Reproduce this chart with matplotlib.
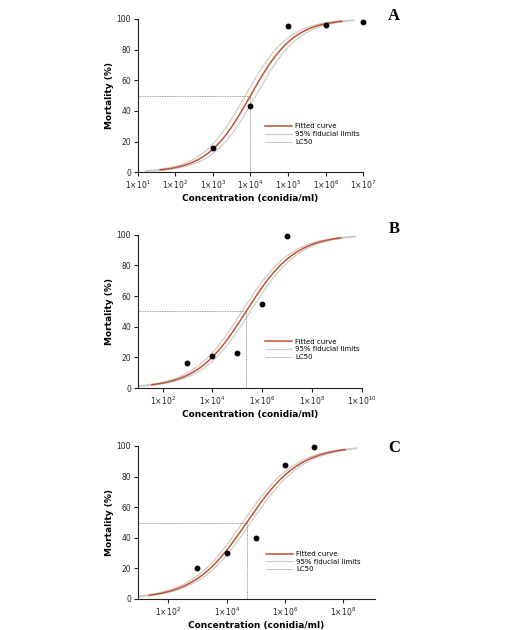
import numpy as np
import matplotlib
matplotlib.use("Agg")
import matplotlib.pyplot as plt
from matplotlib.lines import Line2D

W, H = 510, 630

# ---- data ----
conc_A = [1e3, 1e4, 1e5, 1e6, 1e7]
mort_A = [16, 43.5, 95.5, 96, 98]
conc_B = [1e3, 1e4, 1e5, 1e6, 1e7]
mort_B = [16, 21, 23, 55, 99]
conc_C = [1e3, 1e4, 1e5, 1e6, 1e7]
mort_C = [20, 30, 40, 87.5, 99.5]

# fitted log-logistic model parameters: log10(LC50), Hill slope
logLC50 = {"A": 4.0, "B": 5.36, "C": 4.69}
hill = {"A": 0.75, "B": 0.44, "C": 0.48}
fid_shift = {"A": 0.14, "B": 0.17, "C": 0.14}
# ranges (log10) over which curves are drawn
fit_range = {"A": (1.6, 6.43), "B": (1.57, 9.16), "C": (1.35, 8.06)}
lim_range = {"A": (1.21, 6.74), "B": (1.0, 9.73), "C": (0.95, 8.46)}

xticks_exp = {"A": [1, 2, 3, 4, 5, 6, 7], "B": [2, 4, 6, 8, 10], "C": [2, 4, 6, 8]}
xlims = {"A": (1e1, 1e7), "B": (1e1, 1e10), "C": (10**0.95, 10**9.09)}
yticks = [0, 20, 40, 60, 80, 100]

legend_labels = ["Fitted curve", "95% fiducial limits", "LC50"]

# pixel layout: left, right, top(100%), bottom(0%)
layout = {
    "A": (137.7, 363.3, 19.0, 172.3),
    "B": (137.7, 361.7, 234.7, 388.0),
    "C": (137.7, 375.0, 446.0, 599.0),
}
legend_pos = {"A": (265.0, 123.5), "B": (265.0, 338.5), "C": (266.0, 551.0)}
letter_pos = {"A": (394, 15.5), "B": (394, 229), "C": (394, 448)}

FIT_COLOR = "#bf5230"
LIM_COLOR = "#cdcdcd"
LC_COLOR = "#7a7a7a"


def logistic(logx, l50, h):
    return 100.0 / (1.0 + 10 ** ((l50 - logx) * h))


fig = plt.figure(figsize=(W / 100, H / 100), dpi=100)

for key, conc, mort in [("A", conc_A, mort_A), ("B", conc_B, mort_B), ("C", conc_C, mort_C)]:
    l, r, t, b = layout[key]
    ax = fig.add_axes([l / W, 1 - b / H, (r - l) / W, (b - t) / H])
    ax.set_xscale("log")
    ax.set_xlim(*xlims[key])
    ax.set_ylim(0, 100)

    # fiducial limits
    lx = np.linspace(*lim_range[key], 300)
    for s in (-1, 1):
        ax.plot(10 ** lx, logistic(lx, logLC50[key] + s * fid_shift[key], hill[key]),
                color=LIM_COLOR, lw=0.9, zorder=2)
    fx = np.linspace(*fit_range[key], 300)
    ax.plot(10 ** fx, logistic(fx, logLC50[key], hill[key]), color=FIT_COLOR, lw=1.1, zorder=3)

    lc = 10 ** logLC50[key]
    ax.plot([xlims[key][0], lc], [50, 50], color=LC_COLOR, lw=0.6, ls=(0, (1, 1)), zorder=2)
    ax.plot([lc, lc], [0, 50], color=LC_COLOR, lw=0.6, ls=(0, (1, 1)), zorder=2)

    ax.plot(conc, mort, "o", color="black", ms=3.2, clip_on=False, zorder=4)

    for sp in ("top", "right"):
        ax.spines[sp].set_visible(False)
    for sp in ("left", "bottom"):
        ax.spines[sp].set_linewidth(0.8)
        ax.spines[sp].set_color("#222222")

    ax.set_xticks([10.0 ** e for e in xticks_exp[key]])
    ax.set_xticklabels([r"$1{\times}10^{%d}$" % e for e in xticks_exp[key]])
    ax.xaxis.set_minor_locator(matplotlib.ticker.NullLocator())
    ax.set_yticks(yticks)
    ax.set_yticklabels([str(v) for v in yticks])
    ax.tick_params(axis="both", direction="out", length=3, width=0.8, color="#222222",
                   labelsize=5.5, labelcolor="#222222", pad=1.8)

    ax.set_xlabel("Concentration (conidia/ml)", fontsize=6.5, fontweight="bold", labelpad=2)
    ax.set_ylabel("Mortality (%)", fontsize=6.5, fontweight="bold", labelpad=2)

    handles = [
        Line2D([], [], color=FIT_COLOR, lw=1.1),
        Line2D([], [], color=LIM_COLOR, lw=0.9),
        Line2D([], [], color=LC_COLOR, lw=0.6, ls=(0, (1, 1))),
    ]
    lp = legend_pos[key]
    ax.legend(handles, legend_labels, loc="upper left", bbox_to_anchor=(lp[0] / W, 1 - lp[1] / H),
              bbox_transform=fig.transFigure, frameon=False, fontsize=5, borderpad=0,
              borderaxespad=0, handlelength=3.9, handletextpad=0.45, labelspacing=0.25)

    lt = letter_pos[key]
    fig.text(lt[0] / W, 1 - lt[1] / H, key, fontsize=12, fontweight="bold",
             family="Liberation Serif", ha="center", va="center")

fig.savefig("out.png", dpi=100)
